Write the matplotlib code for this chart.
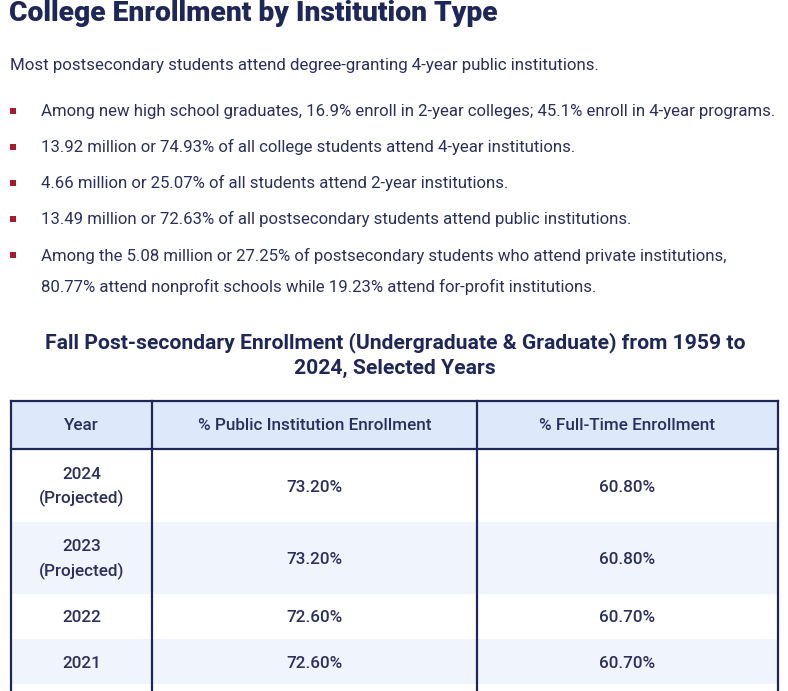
import matplotlib.pyplot as plt
from matplotlib.patches import Rectangle

# page text
title = "College Enrollment by Institution Type"
intro = "Most postsecondary students attend degree-granting 4-year public institutions."
bullets = [
    "Among new high school graduates, 16.9% enroll in 2-year colleges; 45.1% enroll in 4-year programs.",
    "13.92 million or 74.93% of all college students attend 4-year institutions.",
    "4.66 million or 25.07% of all students attend 2-year institutions.",
    "13.49 million or 72.63% of all postsecondary students attend public institutions.",
    "Among the 5.08 million or 27.25% of postsecondary students who attend private institutions,\n"
    "80.77% attend nonprofit schools while 19.23% attend for-profit institutions.",
]
table_title = "Fall Post-secondary Enrollment (Undergraduate & Graduate) from 1959 to\n2024, Selected Years"

# table data
headers = ["Year", "% Public Institution Enrollment", "% Full-Time Enrollment"]
years = ["2024\n(Projected)", "2023\n(Projected)", "2022", "2021"]
public_pct = ["73.20%", "73.20%", "72.60%", "72.60%"]
fulltime_pct = ["60.80%", "60.80%", "60.70%", "60.70%"]

navy = "#1f2759"
text_c = "#2b2f5c"
red = "#a51c30"

W, H = 788, 691
fig = plt.figure(figsize=(W / 100, H / 100), dpi=100)
ax = fig.add_axes([0, 0, 1, 1])
ax.set_xlim(0, W)
ax.set_ylim(H, 0)
ax.axis("off")

body = "Roboto"
ax.text(9, 13, title, fontsize=20.3, fontweight="heavy", family=body, color=navy, va="center")
ax.text(10, 65, intro, fontsize=12.15, family=body, color=text_c, va="center")

bullet_y = [111, 147, 183, 219, 255]
for y, b in zip(bullet_y, bullets):
    ax.add_patch(Rectangle((10, y - 3.5), 6.5, 6.5, color=red, lw=0))
    if "\n" in b:
        ax.text(41, y - 7, b, fontsize=12.05, family=body, color=text_c, va="top", linespacing=2.15)
    else:
        ax.text(41, y, b, fontsize=12.05, family=body, color=text_c, va="center")

ax.text(395, 355, table_title, fontsize=15.2, fontweight="bold", family=body, color=navy,
        ha="center", va="center", linespacing=1.4)

# table geometry
left, right = 11, 778
col_x = [11, 152, 477, 778]
top, head_bot = 401, 449
row_edges = [449, 522, 594, 639, 684]
bands = ["white", "#f0f5fd", "white", "#f0f5fd"]

ax.add_patch(Rectangle((left, top), right - left, head_bot - top, color="#dde9fb", lw=0))
for i in range(len(years)):
    ax.add_patch(Rectangle((left, row_edges[i]), right - left,
                           row_edges[i + 1] - row_edges[i], color=bands[i], lw=0))

cell_fs = 12.3
for j, h in enumerate(headers):
    cx = (col_x[j] + col_x[j + 1]) / 2
    ax.text(cx, 425, h, fontsize=cell_fs, fontweight="medium", family=body, color=text_c,
            ha="center", va="center")

for i in range(len(years)):
    cy = (row_edges[i] + row_edges[i + 1]) / 2 + 1.5
    for j, val in enumerate([years[i], public_pct[i], fulltime_pct[i]]):
        cx = (col_x[j] + col_x[j + 1]) / 2
        ax.text(cx, cy, val, fontsize=cell_fs, fontweight="medium", family=body, color=text_c,
                ha="center", va="center", linespacing=1.65)

lw = 1.6
ax.plot([left, right], [top, top], color=navy, lw=lw, solid_capstyle="projecting")
ax.plot([left, right], [head_bot, head_bot], color=navy, lw=lw)
for x in col_x:
    ax.plot([x, x], [top, H + 5], color=navy, lw=lw)

fig.savefig("out.png", dpi=100, facecolor="white")
